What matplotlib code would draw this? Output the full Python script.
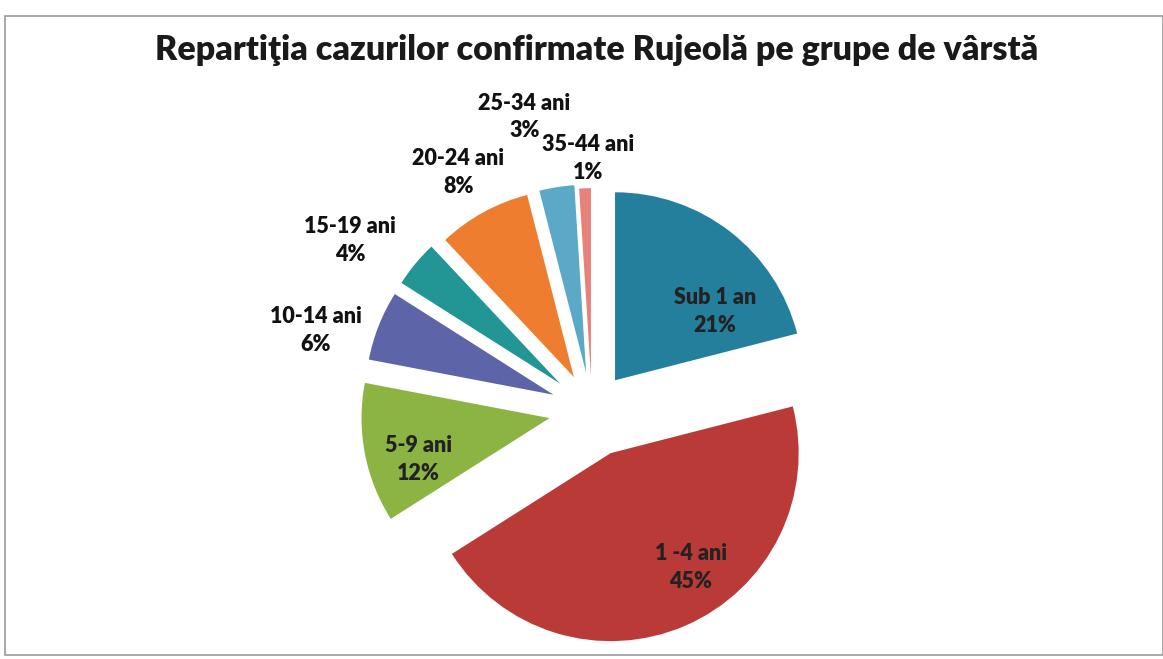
"""Exploded pie: confirmed measles cases (Rujeolă) by age group."""
import numpy as np
import matplotlib
matplotlib.use("Agg")
import matplotlib.pyplot as plt
from matplotlib.patches import Rectangle

plt.rcParams["font.family"] = ["Lato", "DejaVu Sans"]

# --- data ---------------------------------------------------------------------------------
groups = ["Sub 1 an", "1 -4 ani", "5-9 ani", "10-14 ani", "15-19 ani",
          "20-24 ani", "25-34 ani", "35-44 ani"]
shares = [21, 45, 12, 6, 4, 8, 3, 1]

# --- style ----------------------------------------------------------------------------------
colors = ["#237f9c", "#b93a37", "#8cb443", "#5d64a8", "#229595",
          "#ee7d30", "#5ba9c7", "#e7817a"]
explode = [0.20, 0.25, 0.23, 0.22, 0.22, 0.20, 0.20, 0.18]   # in radii
# label placement: radial distance (in radii) and angular tweak (deg) from wedge mid-angle
label_dist = [0.84, 0.99, 0.96, 1.53, 1.57, 1.45, 1.60, 1.34]
label_turn = [-13.5, 8.6, 5.2, 5.6, 4.6, 0.6, 4.0, -0.8]
inside = [True, True, True, False, False, False, False, False]

W, H = 1163, 659
fig = plt.figure(figsize=(W / 100, H / 100), dpi=100)
ax = fig.add_axes([0, 0, 1, 1])
cx, cy, R = 592, H - 410, 188

# matplotlib's explode is in data units, so scale by the radius
wedges, _ = ax.pie(shares, colors=colors, explode=[e * R for e in explode], startangle=90,
                   counterclock=False, center=(cx, cy), radius=R,
                   wedgeprops=dict(linewidth=0))
ax.set_xlim(0, W)
ax.set_ylim(0, H)
ax.set_aspect("equal")
ax.axis("off")

for w, name, v, d, t, ins in zip(wedges, groups, shares, label_dist, label_turn, inside):
    mid = np.deg2rad((w.theta1 + w.theta2) / 2 + t)
    x = cx + d * R * np.cos(mid)
    y = cy + d * R * np.sin(mid)
    ax.text(x, y, f"{name}\n{v}%", ha="center", va="center", fontsize=15.5,
            fontweight="heavy", color="#222222" if ins else "#111111", linespacing=1.4)

ax.text(597, H - 50, "Repartiţia cazurilor confirmate Rujeolă pe grupe de vârstă",
        ha="center", va="center", fontsize=24.5, fontweight="heavy", color="#1a1a1a")

ax.add_patch(Rectangle((5, 4), W - 5, H - 20, fill=False, edgecolor="#9a9a9a", lw=1.2))

fig.savefig("out.png", dpi=100)
